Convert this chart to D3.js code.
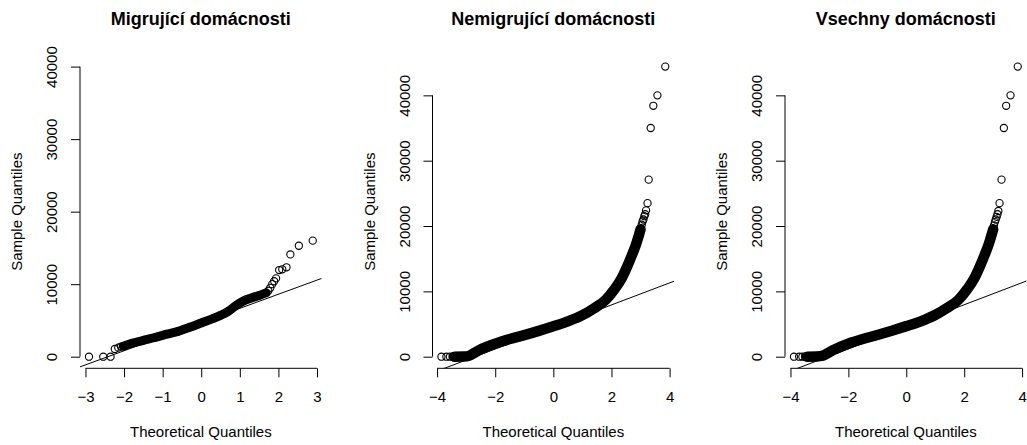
<!DOCTYPE html>
<html>
<head>
<meta charset="utf-8">
<script src="https://cdn.jsdelivr.net/npm/d3@7"></script>
<style>
  body { margin: 0; background: #fff; }
  svg { display: block; }
  text { font-family: "Liberation Sans", Arial, Helvetica, sans-serif; fill: #000; }
</style>
</head>
<body>
<script>
const width = 1027;
const height = 445;
const panelStep = 352.5;
const plotLeft = 80;
const plotTop = 55;
const plotW = 241.7;
const plotH = 313.3;

// Migrujici - dense band of overlapping points
const migrBandQ = [-2.02, -1.80, -1.50, -1.20, -0.90, -0.60, -0.30, 0.00, 0.30, 0.50, 0.70, 0.90, 1.10, 1.30, 1.50, 1.68];
const migrBandV = [1450, 1850, 2250, 2650, 3100, 3500, 4050, 4650, 5250, 5700, 6250, 7050, 7700, 8100, 8450, 8800];
// Migrujici - separately visible points
const migrPtsQ = [-2.91, -2.54, -2.35, -2.24, -2.15, -2.08, 1.74, 1.79, 1.84, 1.89, 1.94, 2.02, 2.10, 2.21, 2.31, 2.53, 2.89];
const migrPtsV = [0, 0, 0, 1060, 1250, 1400, 9100, 9500, 10000, 10400, 10800, 11950, 12050, 12330, 14100, 15300, 16000];
const migrLine = [4717, 1948]; // intercept, slope

const nemigrBandQ = [-3.40, -3.10, -2.90, -2.75, -2.55, -2.30, -2.00, -1.50, -1.00, -0.50, 0.00, 0.50, 1.00, 1.40, 1.80, 2.10, 2.35, 2.55, 2.70, 2.83, 2.93, 3.00];
const nemigrBandV = [0, 30, 150, 500, 1000, 1500, 2000, 2700, 3300, 3950, 4650, 5400, 6350, 7400, 8700, 10300, 12000, 13900, 15500, 17000, 18400, 19500];
const nemigrPtsQ = [-3.85, -3.68, -3.56, -3.47, 3.04, 3.07, 3.10, 3.13, 3.16, 3.19, 3.24, 3.28, 3.35, 3.44, 3.58, 3.85];
const nemigrPtsV = [0, 0, 0, 0, 20200, 20700, 21000, 21500, 21800, 22400, 23500, 27100, 35000, 38400, 40000, 44400];
const nemigrLine = [4549, 1687];

const vseBandQ = [-3.42, -3.10, -2.88, -2.73, -2.53, -2.28, -2.00, -1.50, -1.00, -0.50, 0.00, 0.50, 1.00, 1.40, 1.80, 2.10, 2.35, 2.55, 2.70, 2.83, 2.93, 3.00];
const vseBandV = [0, 30, 150, 500, 1000, 1500, 2000, 2700, 3320, 3980, 4680, 5420, 6380, 7420, 8700, 10300, 12000, 13900, 15500, 17000, 18400, 19500];
const vsePtsQ = [-3.88, -3.70, -3.59, -3.50, 3.03, 3.06, 3.09, 3.12, 3.15, 3.18, 3.22, 3.29, 3.37, 3.45, 3.60, 3.85];
const vsePtsV = [0, 0, 0, 0, 20100, 20600, 21000, 21400, 21800, 22300, 23500, 27100, 35000, 38400, 40000, 44400];
const vseLine = [4570, 1690];

const titles = ["Migrující domácnosti", "Nemigrující domácnosti", "Vsechny domácnosti"];
const xTicks = [[-3, -2, -1, 0, 1, 2, 3], [-4, -2, 0, 2, 4], [-4, -2, 0, 2, 4]];
const yTicks = [0, 10000, 20000, 30000, 40000];
const yLims = [[0, 40000], null, null];

const panels = [
    {bandQ: migrBandQ, bandV: migrBandV, ptsQ: migrPtsQ, ptsV: migrPtsV, fit: migrLine, band: 9},
    {bandQ: nemigrBandQ, bandV: nemigrBandV, ptsQ: nemigrPtsQ, ptsV: nemigrPtsV, fit: nemigrLine, band: 10.5},
    {bandQ: vseBandQ, bandV: vseBandV, ptsQ: vsePtsQ, ptsV: vsePtsV, fit: vseLine, band: 10.5}
];

// R style 4% axis extension
function rExpand([a, b]) {
    const d = (b - a) * 0.04;
    return [a - d, b + d];
}

const svg = d3.select("body").append("svg")
    .attr("width", width)
    .attr("height", height);

panels.forEach((p, i) => {
    const allQ = p.bandQ.concat(p.ptsQ);
    const allV = p.bandV.concat(p.ptsV);
    const x = d3.scaleLinear().domain(rExpand(d3.extent(allQ))).range([0, plotW]);
    const y = d3.scaleLinear().domain(rExpand(yLims[i] || d3.extent(allV))).range([plotH, 0]);

    const g = svg.append("g")
        .attr("transform", `translate(${i * panelStep + plotLeft},${plotTop})`);

    g.append("clipPath").attr("id", "clip" + i)
        .append("rect").attr("width", plotW).attr("height", plotH);
    const plot = g.append("g").attr("clip-path", `url(#clip${i})`);

    // points
    const band = p.bandQ.map((q, k) => [q, p.bandV[k]]);
    const pts = p.ptsQ.map((q, k) => [q, p.ptsV[k]]);
    plot.append("path")
        .datum(band)
        .attr("d", d3.line().x(d => x(d[0])).y(d => y(d[1])).curve(d3.curveMonotoneX))
        .attr("fill", "none")
        .attr("stroke", "#000")
        .attr("stroke-width", p.band)
        .attr("stroke-linecap", "round")
        .attr("stroke-linejoin", "round");
    plot.selectAll("circle.pt")
        .data(band.concat(pts))
        .join("circle")
        .attr("class", "pt")
        .attr("cx", d => x(d[0]))
        .attr("cy", d => y(d[1]))
        .attr("r", 3.6)
        .attr("fill", "none")
        .attr("stroke", "#000")
        .attr("stroke-width", 1.1);

    // qqline
    const [x0, x1] = x.domain();
    plot.append("line")
        .attr("x1", x(x0)).attr("y1", y(p.fit[0] + p.fit[1] * x0))
        .attr("x2", x(x1)).attr("y2", y(p.fit[0] + p.fit[1] * x1))
        .attr("stroke", "#000")
        .attr("stroke-width", 1);

    // x axis
    const xt = xTicks[i];
    const xAxis = g.append("g")
        .attr("transform", `translate(0,${plotH})`)
        .call(d3.axisBottom(x).tickValues(xt).tickSize(9).tickPadding(14).tickFormat(d3.format("d")));
    xAxis.select(".domain").remove();
    xAxis.append("line")
        .attr("x1", x(xt[0])).attr("x2", x(xt[xt.length - 1]))
        .attr("stroke", "#000");
    xAxis.selectAll("text").style("font-size", "15px").attr("fill", "#000");
    xAxis.selectAll(".tick line").attr("stroke", "#000");

    // y axis
    const yAxis = g.append("g")
        .call(d3.axisLeft(y).tickValues(yTicks).tickSize(9).tickFormat(d3.format("d")));
    yAxis.select(".domain").remove();
    yAxis.append("line")
        .attr("y1", y(yTicks[0])).attr("y2", y(yTicks[yTicks.length - 1]))
        .attr("stroke", "#000");
    yAxis.selectAll(".tick line").attr("stroke", "#000");
    yAxis.selectAll("text")
        .attr("x", null).attr("dy", null)
        .attr("text-anchor", "middle")
        .attr("transform", "translate(-22.6,0) rotate(-90)")
        .attr("fill", "#000")
        .style("font-size", "15px");

    // labels
    g.append("text")
        .attr("x", plotW / 2)
        .attr("y", 25 - plotTop)
        .attr("text-anchor", "middle")
        .style("font-size", "18px")
        .style("font-weight", "bold")
        .text(titles[i]);
    g.append("text")
        .attr("x", plotW / 2)
        .attr("y", 437 - plotTop)
        .attr("text-anchor", "middle")
        .style("font-size", "15px")
        .text("Theoretical Quantiles");
    g.append("text")
        .attr("transform", `translate(-57.7,${plotH / 2}) rotate(-90)`)
        .attr("text-anchor", "middle")
        .style("font-size", "15px")
        .text("Sample Quantiles");
});
</script>
</body>
</html>
